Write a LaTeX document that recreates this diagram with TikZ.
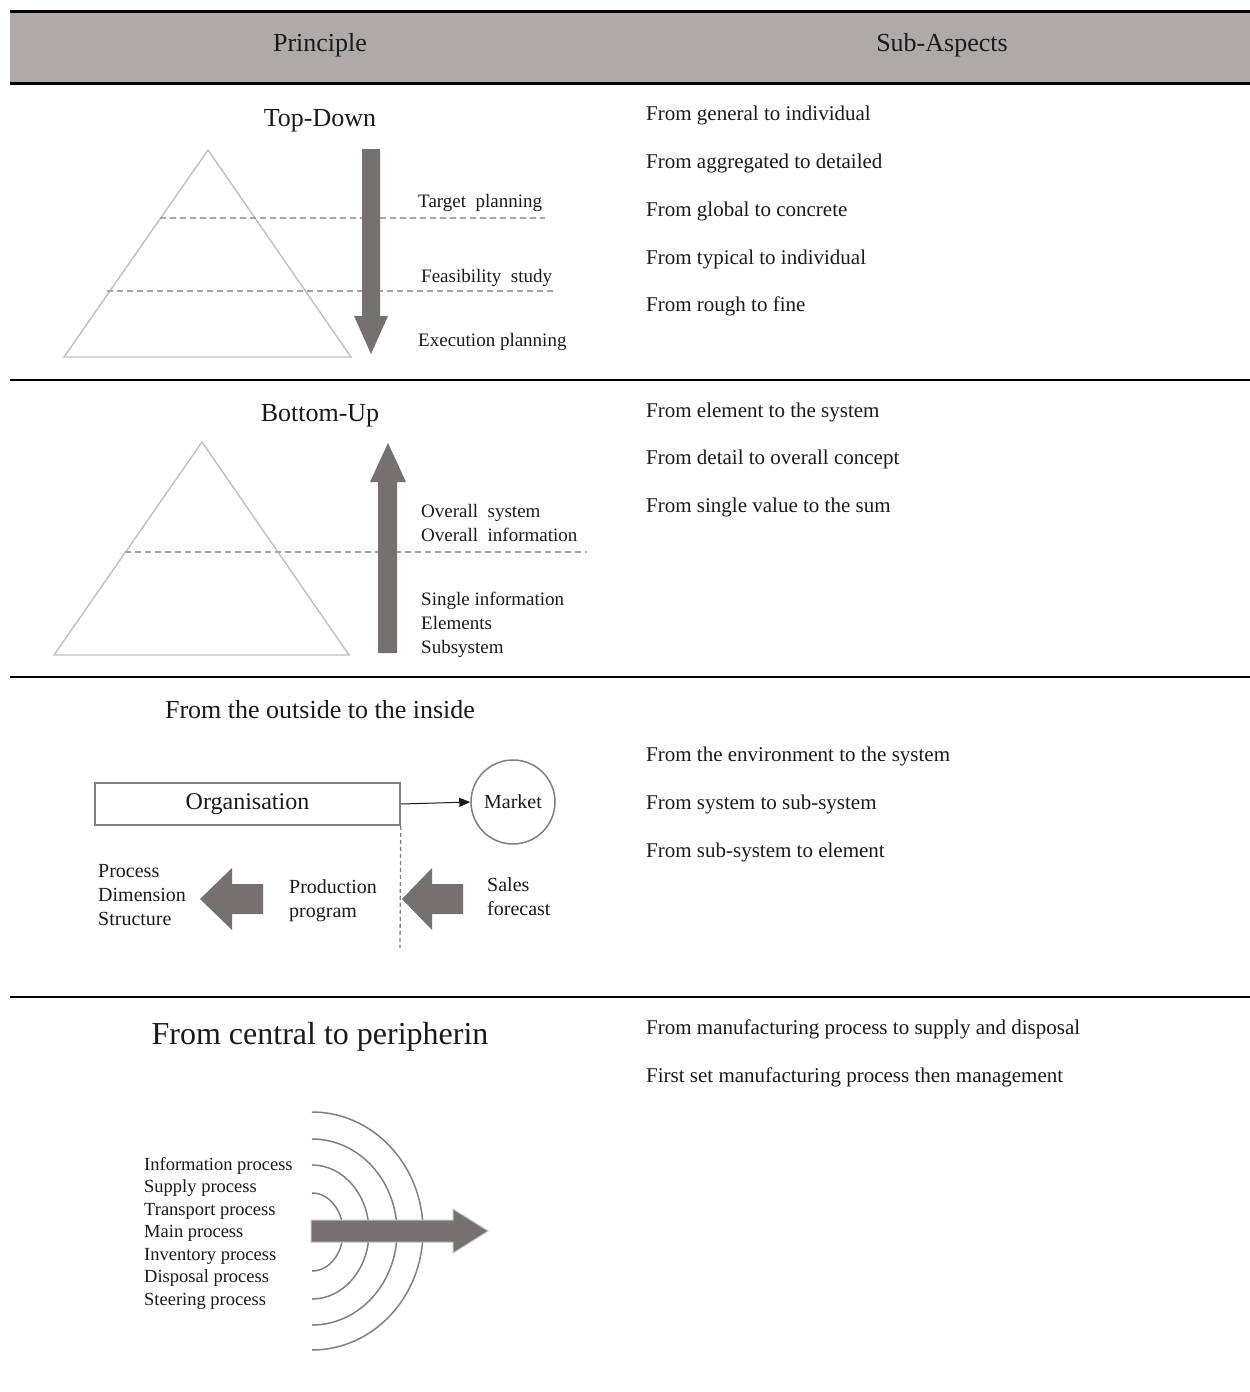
\documentclass[tikz,border=0pt]{standalone}
\usepackage{fontspec}
\setmainfont{Liberation Serif}
\usetikzlibrary{arrows.meta}
\definecolor{headgray}{HTML}{AEAAAA}
\definecolor{arrowgray}{HTML}{767171}
\definecolor{pyrgray}{HTML}{BFBFBF}
\definecolor{dashgray}{HTML}{A6A6A6}
\definecolor{boxgray}{HTML}{808080}
\definecolor{ink}{HTML}{1A1A1A}

\begin{document}
\begin{tikzpicture}[x=1pt,y=-1pt,
  txt/.style={inner sep=0pt, anchor=base west, text=ink},
  aspect/.style={txt, font=\fontsize{21}{25}\selectfont},
  colhead/.style={inner sep=0pt, anchor=base, text=ink, font=\fontsize{26}{30}\selectfont},
  ptitle/.style={colhead},
  lbl/.style={txt, font=\fontsize{19}{23}\selectfont},
  flowlbl/.style={txt, font=\fontsize{20}{24}\selectfont},
  proclbl/.style={txt, font=\fontsize{18.5}{22}\selectfont},
  pyramid/.style={draw=pyrgray, line width=1.4pt, line join=miter},
  level/.style={draw=dashgray, line width=1.2pt, dash pattern=on 6pt off 4pt},
  flow/.style={fill=arrowgray, draw=none},
  rowrule/.style={line width=1.5pt},
  wave/.style={draw=boxgray, line width=1.5pt},
]
\useasboundingbox (0,0) rectangle (1250,1392);

% ---------- column header ----------
\fill[headgray] (10,11) rectangle (1250,83);
\draw[line width=3pt] (10,11) -- (1250,11);
\draw[line width=3pt] (10,83) -- (1250,83);
\node[colhead] (hprin) at (320,51) {Principle};
\node[colhead] (hsub) at (942,51) {Sub-Aspects};

% ---------- row separators ----------
\draw[rowrule] (10,380) -- (1250,380);
\draw[rowrule] (10,677) -- (1250,677);
\draw[rowrule] (10,997) -- (1250,997);

% ---------- Top-Down ----------
\node[ptitle] (td) at (320,126) {Top-Down};
\draw[pyramid] (64,357) -- (208,150) -- (351,357) -- cycle;
\draw[level] (160,218) -- (545,218);
\draw[level] (107,291) -- (556,291);
\fill[flow] (362,149) -- (380,149) -- (380,316) -- (388,316) -- (371,354)
  -- (354,316) -- (362,316) -- cycle;
\node[lbl] (tp) at (418,207) {Target\ \ planning};
\node[lbl] (fs) at (421,282) {Feasibility\ \ study};
\node[lbl] (ep) at (418,346) {Execution planning};

\node[aspect] (a1) at (646,120) {From general to individual};
\node[aspect] (a2) at (646,168) {From aggregated to detailed};
\node[aspect] (a3) at (646,216) {From global to concrete};
\node[aspect] (a4) at (646,264) {From typical to individual};
\node[aspect] (a5) at (646,311) {From rough to fine};

% ---------- Bottom-Up ----------
\node[ptitle] (bu) at (320,421) {Bottom-Up};
\draw[pyramid] (54,655) -- (202,442) -- (349,655) -- cycle;
\draw[level] (125,552) -- (587,552);
\fill[flow] (378,653) -- (397,653) -- (397,482) -- (406,482) -- (388,443)
  -- (370,482) -- (378,482) -- cycle;
\node[lbl] (os) at (421,517) {Overall\ \ system};
\node[lbl] (oi) at (421,541) {Overall\ \ information};
\node[lbl] (si) at (421,605) {Single information};
\node[lbl] (el) at (421,629) {Elements};
\node[lbl] (ss) at (421,653) {Subsystem};

\node[aspect] (b1) at (646,417) {From element to the system};
\node[aspect] (b2) at (646,464) {From detail to overall concept};
\node[aspect] (b3) at (646,512) {From single value to the sum};

% ---------- From the outside to the inside ----------
\node[ptitle] (oti) at (320,718) {From the outside to the inside};
\node[draw=boxgray, line width=1.5pt, inner sep=0pt, minimum width=305pt,
  minimum height=42pt, text=ink, font=\fontsize{24}{28}\selectfont]
  (org) at (247.5,804) {Organisation};
\node[circle, draw=boxgray, line width=1.5pt, inner sep=0pt, minimum size=84pt,
  text=ink, font=\fontsize{20}{24}\selectfont] (market) at (513,802) {Market};
\draw[ink, line width=1pt, -{Triangle[length=11pt,width=9pt]}] (org.east) -- (market.west);
\coordinate (cut) at (400,948);
\draw[boxgray, line width=1.3pt, dash pattern=on 4pt off 3pt] (org.south east) -- (cut);

\fill[flow] (263,884) -- (263,914) -- (232,914) -- (232,930) -- (200,899)
  -- (232,868) -- (232,884) -- cycle;
\fill[flow] (463,884) -- (463,914) -- (432,914) -- (432,930) -- (402,899)
  -- (432,868) -- (432,884) -- cycle;
\node[flowlbl] (pr) at (98,877) {Process};
\node[flowlbl] (di) at (98,901) {Dimension};
\node[flowlbl] (st) at (98,925) {Structure};
\node[flowlbl] (pd) at (289,893) {Production};
\node[flowlbl] (pg) at (289,917) {program};
\node[flowlbl] (sa) at (487,891) {Sales};
\node[flowlbl] (fc) at (487,915) {forecast};

\node[aspect] (c1) at (646,761) {From the environment to the system};
\node[aspect] (c2) at (646,809) {From system to sub-system};
\node[aspect] (c3) at (646,857) {From sub-system to element};

% ---------- From central to peripherin ----------
\node[inner sep=0pt, anchor=base, text=ink, font=\fontsize{32}{36}\selectfont]
  (cp) at (320,1044) {From central to peripherin};
\draw[wave] (312,1193) arc[start angle=-90, end angle=90, x radius=31, y radius=39];
\draw[wave] (312,1165) arc[start angle=-90, end angle=90, x radius=57, y radius=67];
\draw[wave] (312,1139) arc[start angle=-90, end angle=90, x radius=85, y radius=93];
\draw[wave] (312,1112) arc[start angle=-90, end angle=90, x radius=111, y radius=119];
\filldraw[fill=arrowgray, draw=pyrgray, line width=1pt, line join=miter]
  (311,1220) -- (453,1220) -- (453,1209) -- (488,1231) -- (453,1253)
  -- (453,1242) -- (311,1242) -- cycle;
\node[proclbl] (p1) at (144,1170) {Information process};
\node[proclbl] (p2) at (144,1192) {Supply process};
\node[proclbl] (p3) at (144,1215) {Transport process};
\node[proclbl] (p4) at (144,1237) {Main process};
\node[proclbl] (p5) at (144,1260) {Inventory process};
\node[proclbl] (p6) at (144,1282) {Disposal process};
\node[proclbl] (p7) at (144,1305) {Steering process};

\node[aspect] (d1) at (646,1034) {From manufacturing process to supply and disposal};
\node[aspect] (d2) at (646,1082) {First set manufacturing process then management};
\end{tikzpicture}
\end{document}
